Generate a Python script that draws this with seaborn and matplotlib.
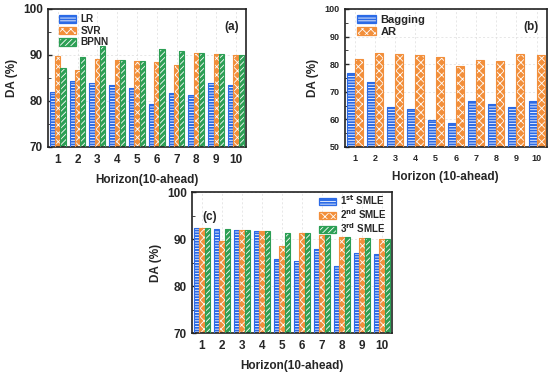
import numpy as np
import pandas as pd
import matplotlib
matplotlib.use("Agg")
import matplotlib.pyplot as plt
from matplotlib.patches import Patch, Rectangle
from matplotlib.ticker import MultipleLocator
import seaborn as sns

# ── data ──────────────────────────────────────────────────────────────────────
HORIZON = [str(i) for i in range(1, 11)]

A_LR   = [82.0, 84.3, 83.9, 83.4, 82.9, 79.4, 81.8, 81.3, 84.0, 83.4]
A_SVR  = [89.7, 86.8, 89.2, 88.9, 88.6, 88.4, 87.9, 90.5, 90.3, 90.0]
A_BPNN = [87.1, 89.5, 91.9, 88.9, 88.6, 91.3, 90.9, 90.5, 90.3, 90.0]

B_BAGGING = [76.9, 73.6, 64.5, 63.7, 59.9, 58.7, 66.6, 65.4, 64.3, 66.6]
B_AR      = [81.8, 83.9, 83.5, 83.3, 82.7, 79.4, 81.5, 81.1, 83.7, 83.2]

C_SMLE1 = [92.4, 92.1, 91.9, 91.7, 85.7, 85.3, 87.8, 84.3, 87.1, 86.8]
C_SMLE2 = [92.4, 89.5, 91.9, 91.7, 88.6, 91.2, 90.8, 90.5, 90.3, 90.0]
C_SMLE3 = [92.4, 92.1, 91.9, 91.7, 91.4, 91.2, 90.8, 90.5, 90.3, 90.0]

# ── style ─────────────────────────────────────────────────────────────────────
BLUE   = "#2b6ae6"
ORANGE = "#f28f3b"
GREEN  = "#2c9f55"
STYLES = [(BLUE, "------"), (ORANGE, "xxxx"), (GREEN, "//////")]

sns.set_style("ticks")
plt.rcParams.update({
    "font.family": ["Liberation Sans", "DejaVu Sans"],
    "font.weight": "bold",
    "axes.labelweight": "bold",
    "mathtext.default": "bf",
    "hatch.linewidth": 0.6,
    "axes.linewidth": 1.2,
})


def long_frame(series, names):
    rows = []
    for vals, name in zip(series, names):
        for h, v in zip(HORIZON, vals):
            rows.append({"Horizon": h, "DA": v, "Model": name})
    return pd.DataFrame(rows)


def panel(ax, series, names, ylim, xlabel, tag, tag_xy, leg_loc, leg_anchor,
          tick_fs=8.5, label_fs=8.5, leg_fs=7.2, leg_space=0.15):
    df = long_frame(series, names)
    colors = [s[0] for s in STYLES[:len(names)]]
    sns.barplot(data=df, x="Horizon", y="DA", hue="Model", palette=colors,
                saturation=1, width=0.8, ax=ax, legend=False, zorder=2)

    handles = []
    for cont, (color, hatch), name in zip(ax.containers, STYLES, names):
        for bar in cont:
            bar.set_edgecolor("white")
            bar.set_hatch(hatch)
            bar.set_linewidth(0)
            ax.add_patch(Rectangle(bar.get_xy(), bar.get_width(), bar.get_height(),
                                   fill=False, ec=color, lw=0.8, zorder=3))
        handles.append((Patch(fc=color, ec="white", hatch=hatch, lw=0),
                        Patch(fill=False, ec=color, lw=0.9)))

    ax.set_ylim(*ylim)
    ax.set_xlim(-0.5, 9.5)
    ax.yaxis.set_major_locator(MultipleLocator(10))
    ax.yaxis.set_minor_locator(MultipleLocator(5))
    ax.tick_params(axis="both", direction="in", labelsize=tick_fs, width=1, length=3)
    ax.tick_params(axis="y", which="minor", direction="in", length=2)
    ax.tick_params(axis="x", length=0, pad=5)
    for lab in ax.get_xticklabels() + ax.get_yticklabels():
        lab.set_fontweight("bold")
    ax.grid(True, ls=(0, (3, 3)), lw=0.5, color="#dddddd", zorder=0)
    for sp in ax.spines.values():
        sp.set_visible(True)
        sp.set_color("#222222")
    ax.set_xlabel(xlabel, fontsize=label_fs, labelpad=6)
    ax.set_ylabel("DA (%)", fontsize=label_fs, labelpad=4)
    ax.text(*tag_xy, tag, transform=ax.transAxes, fontsize=8.5,
            fontweight="bold", ha="center", va="center")
    ax.legend(handles, names, loc=leg_loc, bbox_to_anchor=leg_anchor,
              frameon=False, fontsize=leg_fs, handlelength=1.7, handleheight=0.75,
              handletextpad=0.4, labelspacing=leg_space, borderaxespad=0.15)


fig = plt.figure(figsize=(5.5, 3.73), dpi=100)
ax_a = fig.add_axes([0.087, 0.606, 0.360, 0.370])
ax_b = fig.add_axes([0.627, 0.606, 0.367, 0.370])
ax_c = fig.add_axes([0.349, 0.107, 0.364, 0.378])

panel(ax_a, [A_LR, A_SVR, A_BPNN], ["LR", "SVR", "BPNN"], (70, 100),
      "Horizon(10-ahead)", "(a)", (0.93, 0.87), "upper left", (0.03, 1.0))
panel(ax_b, [B_BAGGING, B_AR], ["Bagging", "AR"], (50, 100),
      "Horizon (10-ahead)", "(b)", (0.92, 0.87), "upper left", (0.03, 1.0),
      tick_fs=6.5, label_fs=8.5, leg_fs=8)
panel(ax_c, [C_SMLE1, C_SMLE2, C_SMLE3],
      ["1$^{st}$ SMLE", "2$^{nd}$ SMLE", "3$^{rd}$ SMLE"],
      (70, 100), "Horizon(10-ahead)", "(c)", (0.09, 0.82), "upper right", (1.0, 1.03),
      leg_fs=7, leg_space=0.02)

fig.savefig("out.png", dpi=100)
